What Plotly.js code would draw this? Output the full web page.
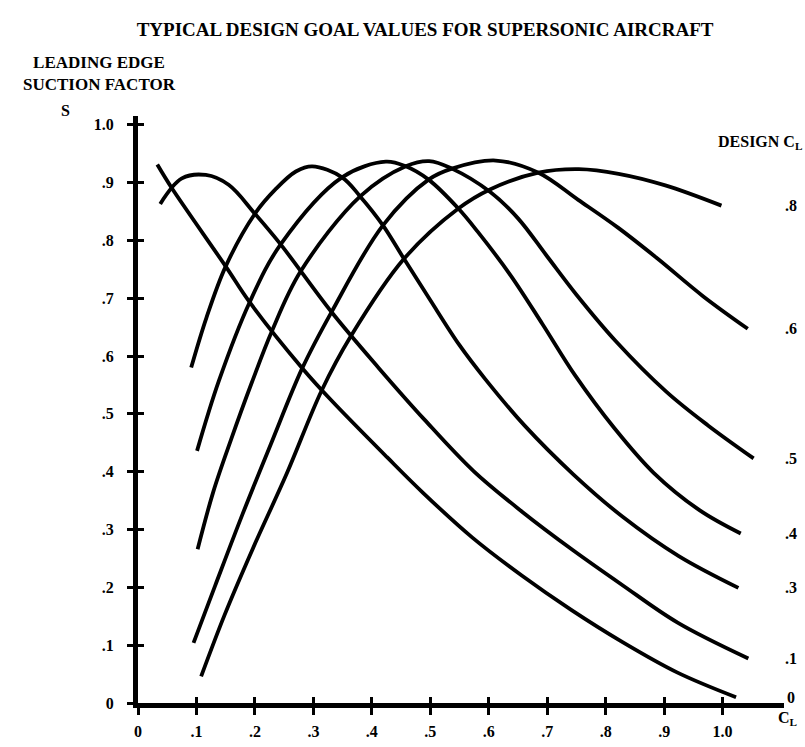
<!DOCTYPE html>
<html>
<head>
<meta charset="utf-8">
<script src="https://cdn.plot.ly/plotly-3.0.1.min.js"></script>
<style>
html,body{margin:0;padding:0;background:#fff;}
#chart{width:805px;height:747px;}
</style>
</head>
<body>
<div id="chart"></div>
<script>
// Tick values and labels
const xTickVals = [0, 0.1, 0.2, 0.3, 0.4, 0.5, 0.6, 0.7, 0.8, 0.9, 1.0];
const xTickText = ['0', '.1', '.2', '.3', '.4', '.5', '.6', '.7', '.8', '.9', '1.0'];
const yTickVals = [0, 0.1, 0.2, 0.3, 0.4, 0.5, 0.6, 0.7, 0.8, 0.9, 1.0];
const yTickText = ['0', '.1', '.2', '.3', '.4', '.5', '.6', '.7', '.8', '.9', '1.0'];

// Design C_L of each curve (right-hand labels)
const designCL = ['0', '.1', '.3', '.4', '.5', '.6', '.8'];

// Curve values (x = C_L, y = S)
const cl0X = [0.033, 0.058, 0.150, 0.191, 0.281, 0.331, 0.426, 0.488, 0.572, 0.657, 0.741, 0.826, 0.922, 1.023];
const cl0Y = [0.931, 0.890, 0.755, 0.693, 0.579, 0.523, 0.425, 0.363, 0.286, 0.220, 0.161, 0.107, 0.053, 0.010];

const cl1X = [0.038, 0.075, 0.116, 0.155, 0.200, 0.244, 0.331, 0.412, 0.490, 0.574, 0.658, 0.743, 0.827, 0.923, 1.044];
const cl1Y = [0.863, 0.907, 0.913, 0.896, 0.846, 0.793, 0.676, 0.579, 0.490, 0.401, 0.330, 0.265, 0.205, 0.139, 0.077];

const cl3X = [0.091, 0.117, 0.150, 0.200, 0.235, 0.270, 0.298, 0.349, 0.380, 0.419, 0.455, 0.499, 0.549, 0.594, 0.661, 0.745, 0.829, 0.925, 1.027];
const cl3Y = [0.580, 0.666, 0.755, 0.846, 0.888, 0.919, 0.928, 0.909, 0.876, 0.826, 0.768, 0.698, 0.620, 0.560, 0.480, 0.395, 0.322, 0.254, 0.199];

const cl4X = [0.101, 0.138, 0.191, 0.244, 0.349, 0.424, 0.458, 0.497, 0.548, 0.581, 0.637, 0.692, 0.748, 0.815, 0.882, 0.961, 1.031];
const cl4Y = [0.436, 0.556, 0.693, 0.793, 0.909, 0.936, 0.928, 0.905, 0.855, 0.815, 0.740, 0.655, 0.566, 0.475, 0.398, 0.333, 0.293];

const cl5X = [0.102, 0.129, 0.159, 0.195, 0.229, 0.278, 0.380, 0.458, 0.498, 0.537, 0.602, 0.650, 0.700, 0.750, 0.817, 0.904, 0.975, 1.053];
const cl5Y = [0.266, 0.366, 0.455, 0.555, 0.643, 0.746, 0.876, 0.928, 0.937, 0.924, 0.884, 0.838, 0.772, 0.706, 0.626, 0.538, 0.480, 0.423];

const cl6X = [0.095, 0.132, 0.179, 0.227, 0.281, 0.331, 0.419, 0.497, 0.537, 0.612, 0.685, 0.753, 0.821, 0.888, 0.967, 1.043];
const cl6Y = [0.104, 0.203, 0.327, 0.447, 0.579, 0.676, 0.826, 0.905, 0.924, 0.938, 0.917, 0.870, 0.822, 0.769, 0.703, 0.647];

const cl8X = [0.108, 0.148, 0.196, 0.255, 0.314, 0.364, 0.455, 0.548, 0.602, 0.685, 0.754, 0.822, 0.902, 0.998];
const cl8Y = [0.046, 0.152, 0.266, 0.398, 0.540, 0.634, 0.768, 0.855, 0.888, 0.917, 0.923, 0.915, 0.895, 0.860];

const seriesX = [cl0X, cl1X, cl3X, cl4X, cl5X, cl6X, cl8X];
const seriesY = [cl0Y, cl1Y, cl3Y, cl4Y, cl5Y, cl6Y, cl8Y];

const FONT = 'Liberation Serif, Times New Roman, serif';
const XR = [0, 1.105];
const YR = [0, 1.015];

const traces = designCL.map((lab, i) => ({
  x: seriesX[i], y: seriesY[i],
  type: 'scatter', mode: 'lines',
  name: 'Design CL ' + lab,
  line: {color: '#000', width: 3.8, shape: 'spline', smoothing: 1},
  hoverinfo: 'skip', showlegend: false
}));
traces.push({x: [], y: [], xaxis: 'x2', yaxis: 'y2', type: 'scatter', mode: 'lines', showlegend: false, hoverinfo: 'skip'});

const annotations = [];
designCL.forEach((lab, i) => {
  const ys = seriesY[i];
  annotations.push({
    xref: 'paper', yref: 'y', x: 1.011, y: ys[ys.length - 1],
    text: '<b>' + lab + '</b>', showarrow: false, xanchor: 'center', yanchor: 'middle',
    font: {family: FONT, size: 16, color: '#000'}
  });
});
annotations.push(
  {xref: 'paper', yref: 'paper', x: -0.059, y: 1.073, text: '<b>LEADING EDGE<br>SUCTION FACTOR</b>',
   showarrow: false, xanchor: 'center', yanchor: 'middle', align: 'center',
   font: {family: FONT, size: 17, color: '#000'}},
  {xref: 'paper', yref: 'paper', x: -0.113, y: 1.010, text: '<b>S</b>',
   showarrow: false, xanchor: 'center', yanchor: 'middle', font: {family: FONT, size: 16, color: '#000'}},
  {xref: 'paper', yref: 'paper', x: 0.963, y: 0.955, text: '<b>DESIGN C<sub>L</sub></b>',
   showarrow: false, xanchor: 'center', yanchor: 'middle', font: {family: FONT, size: 16, color: '#000'}},
  {xref: 'paper', yref: 'paper', x: 1.006, y: -0.027, text: '<b>C<sub>L</sub></b>',
   showarrow: false, xanchor: 'center', yanchor: 'middle', font: {family: FONT, size: 16, color: '#000'}}
);

const tickFont = {family: FONT, size: 16, color: '#000', weight: 'bold'};

const layout = {
  width: 805, height: 747,
  margin: {l: 138, r: 21, t: 116, b: 44},
  paper_bgcolor: '#fff', plot_bgcolor: '#fff',
  showlegend: false,
  title: {text: '<b>TYPICAL DESIGN GOAL VALUES FOR SUPERSONIC AIRCRAFT</b>',
          x: 0.528, xref: 'container', xanchor: 'center', y: 0.961, yref: 'container', yanchor: 'middle',
          font: {family: FONT, size: 19, color: '#000'}},
  xaxis: {range: XR, showgrid: false, zeroline: false, showline: true, linecolor: '#000', linewidth: 5,
          tickmode: 'array', tickvals: xTickVals, ticktext: xTickText, ticks: 'outside', ticklen: 7, tickwidth: 3,
          tickcolor: '#000', tickfont: tickFont, ticklabelstandoff: 3, fixedrange: true},
  yaxis: {range: YR, showgrid: false, zeroline: false, showline: true, linecolor: '#000', linewidth: 5,
          tickmode: 'array', tickvals: yTickVals, ticktext: yTickText, ticks: 'outside', ticklen: 6, tickwidth: 3,
          tickcolor: '#000', tickfont: tickFont, ticklabelstandoff: 10, fixedrange: true},
  xaxis2: {range: XR, overlaying: 'x', anchor: 'y2', showgrid: false, zeroline: false, showline: false,
           tickmode: 'array', tickvals: xTickVals, ticks: 'inside', ticklen: 6, tickwidth: 3, tickcolor: '#000',
           showticklabels: false, side: 'bottom', fixedrange: true},
  yaxis2: {range: YR, overlaying: 'y', anchor: 'x2', showgrid: false, zeroline: false, showline: false,
           tickmode: 'array', tickvals: yTickVals, ticks: 'inside', ticklen: 6, tickwidth: 3, tickcolor: '#000',
           showticklabels: false, side: 'left', fixedrange: true},
  annotations: annotations
};

Plotly.newPlot('chart', traces, layout, {displayModeBar: false, staticPlot: true});
</script>
</body>
</html>
